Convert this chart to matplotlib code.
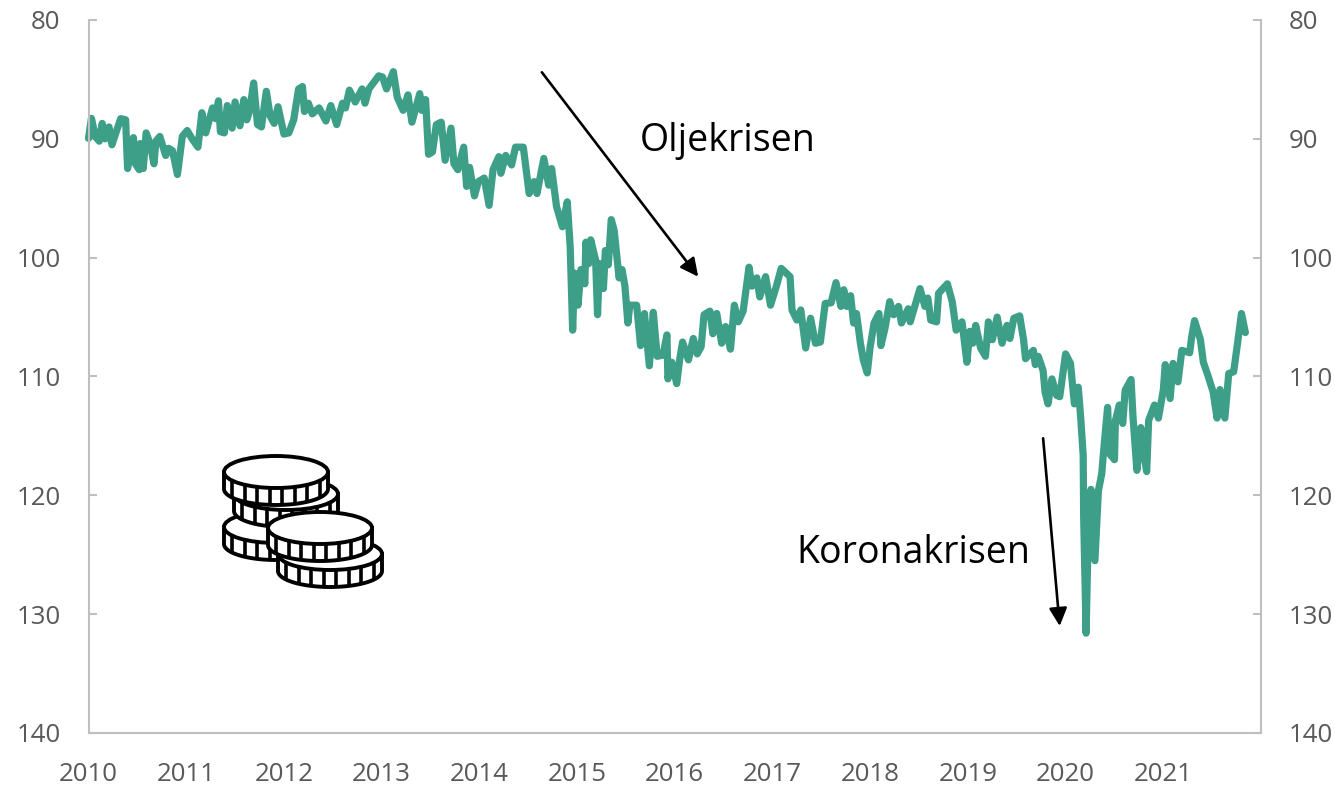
import numpy as np
import matplotlib
matplotlib.use('Agg')
import matplotlib.pyplot as plt
from matplotlib.patches import Ellipse, Polygon

plt.rcParams['font.family'] = ['Open Sans', 'DejaVu Sans']

# decimal year, index value
years = [
    2010.00, 2010.03, 2010.07, 2010.11, 2010.14, 2010.17, 2010.21, 2010.24, 2010.28, 2010.33,
    2010.38, 2010.40, 2010.42, 2010.46, 2010.48, 2010.52, 2010.53, 2010.56, 2010.59, 2010.63,
    2010.67, 2010.69, 2010.73, 2010.79, 2010.82, 2010.86, 2010.91, 2010.96, 2011.01, 2011.06,
    2011.12, 2011.16, 2011.20, 2011.27, 2011.30, 2011.33, 2011.35, 2011.39, 2011.42, 2011.47,
    2011.50, 2011.55, 2011.59, 2011.62, 2011.65, 2011.69, 2011.73, 2011.77, 2011.82, 2011.86,
    2011.90, 2011.94, 2012.00, 2012.05, 2012.10, 2012.15, 2012.19, 2012.21, 2012.25, 2012.29,
    2012.36, 2012.43, 2012.48, 2012.54, 2012.60, 2012.63, 2012.67, 2012.73, 2012.80, 2012.83,
    2012.87, 2012.97, 2013.01, 2013.05, 2013.12, 2013.16, 2013.22, 2013.27, 2013.31, 2013.39,
    2013.41, 2013.45, 2013.48, 2013.52, 2013.56, 2013.61, 2013.65, 2013.71, 2013.74, 2013.78,
    2013.84, 2013.87, 2013.90, 2013.95, 2013.99, 2014.05, 2014.10, 2014.14, 2014.20, 2014.22,
    2014.27, 2014.33, 2014.37, 2014.45, 2014.51, 2014.56, 2014.59, 2014.66, 2014.71, 2014.74,
    2014.79, 2014.85, 2014.90, 2014.93, 2014.955, 2014.975, 2015.01, 2015.04, 2015.08, 2015.09,
    2015.12, 2015.14, 2015.19, 2015.21, 2015.23, 2015.27, 2015.29, 2015.32, 2015.35, 2015.38,
    2015.43, 2015.46, 2015.49, 2015.52, 2015.54, 2015.61, 2015.65, 2015.69, 2015.74, 2015.78,
    2015.82, 2015.88, 2015.92, 2015.93, 2015.97, 2016.02, 2016.05, 2016.08, 2016.14, 2016.19,
    2016.23, 2016.27, 2016.30, 2016.36, 2016.39, 2016.43, 2016.48, 2016.52, 2016.57, 2016.61,
    2016.65, 2016.70, 2016.76, 2016.79, 2016.84, 2016.87, 2016.93, 2016.98, 2017.04, 2017.09,
    2017.18, 2017.20, 2017.25, 2017.29, 2017.34, 2017.39, 2017.44, 2017.49, 2017.54, 2017.60,
    2017.65, 2017.70, 2017.73, 2017.76, 2017.80, 2017.83, 2017.86, 2017.90, 2017.93, 2017.97,
    2018.00, 2018.04, 2018.09, 2018.11, 2018.15, 2018.20, 2018.24, 2018.29, 2018.32, 2018.39,
    2018.41, 2018.51, 2018.56, 2018.59, 2018.62, 2018.68, 2018.70, 2018.79, 2018.84, 2018.88,
    2018.94, 2018.99, 2019.02, 2019.05, 2019.08, 2019.13, 2019.18, 2019.21, 2019.25, 2019.30,
    2019.35, 2019.40, 2019.43, 2019.47, 2019.53, 2019.57, 2019.59, 2019.67, 2019.69, 2019.72,
    2019.77, 2019.79, 2019.82, 2019.86, 2019.91, 2019.94, 2020.00, 2020.05, 2020.09, 2020.13,
    2020.155, 2020.18, 2020.185, 2020.21, 2020.23, 2020.26, 2020.30, 2020.336, 2020.37, 2020.39,
    2020.43, 2020.45, 2020.50, 2020.51, 2020.55, 2020.585, 2020.61, 2020.67, 2020.69, 2020.73,
    2020.77, 2020.80, 2020.83, 2020.85, 2020.91, 2020.95, 2021.00, 2021.02, 2021.07, 2021.10,
    2021.15, 2021.19, 2021.27, 2021.29, 2021.32, 2021.38, 2021.41, 2021.46, 2021.51, 2021.55,
    2021.58, 2021.63, 2021.67, 2021.72, 2021.76, 2021.80, 2021.84,
]
index_values = [
    89.96, 88.28, 89.8, 90.2, 88.7, 90.0, 89.0, 90.5, 89.5, 88.3,
    88.4, 92.5, 91.5, 89.9, 92.1, 92.6, 90.4, 92.5, 89.5, 90.4,
    92.1, 90.2, 89.8, 91.4, 90.8, 91.0, 93.0, 89.8, 89.3, 90.0,
    90.7, 87.8, 89.5, 87.4, 88.3, 86.8, 89.4, 89.5, 87.2, 89.1,
    86.9, 88.9, 86.7, 88.4, 87.6, 85.3, 88.8, 89.0, 86.0, 88.1,
    88.7, 87.3, 89.6, 89.5, 88.4, 85.8, 85.6, 87.7, 87.0, 87.9,
    87.4, 88.5, 87.2, 88.8, 87.0, 87.4, 85.9, 86.9, 85.8, 87.0,
    85.8, 84.7, 84.8, 85.8, 84.35, 86.5, 87.6, 86.3, 88.6, 86.2,
    87.6, 86.7, 91.3, 91.1, 88.8, 88.6, 91.8, 89.1, 92.1, 92.6,
    90.7, 94.0, 92.4, 94.8, 93.6, 93.3, 95.6, 92.6, 91.5, 92.9,
    91.4, 92.2, 90.7, 90.7, 94.6, 93.6, 94.6, 91.65, 93.9, 92.5,
    95.7, 97.4, 95.3, 99.1, 106.1, 101.3, 104.0, 101.0, 102.2, 98.7,
    100.5, 98.5, 100.2, 104.8, 100.5, 102.6, 99.4, 100.6, 96.8, 97.7,
    101.7, 101.0, 102.4, 105.5, 104.0, 104.0, 107.4, 104.7, 109.1, 104.6,
    108.3, 108.2, 106.5, 110.2, 108.8, 110.6, 108.6, 107.1, 108.6, 106.8,
    108.1, 107.5, 104.8, 104.5, 106.4, 104.7, 107.2, 105.8, 107.7, 104.0,
    105.4, 104.5, 100.8, 102.4, 101.7, 103.3, 101.6, 104.0, 102.4, 100.9,
    101.6, 104.4, 105.25, 104.4, 107.6, 105.1, 107.2, 107.1, 103.85, 103.8,
    102.1, 104.1, 102.7, 104.1, 103.2, 105.5, 104.7, 107.2, 108.6, 109.7,
    107.5, 105.5, 104.7, 107.4, 106.0, 103.7, 104.8, 104.1, 105.5, 104.3,
    105.4, 102.6, 104.1, 103.4, 105.25, 105.4, 103.0, 102.2, 103.7, 106.1,
    105.4, 108.8, 106.2, 107.2, 105.7, 107.6, 108.3, 105.4, 106.9, 105.0,
    107.2, 105.7, 106.8, 105.1, 104.9, 106.9, 108.5, 107.8, 109.0, 108.3,
    109.5, 111.3, 112.3, 110.2, 111.6, 111.7, 108.1, 108.9, 112.3, 110.9,
    113.5, 116.6, 121.8, 131.6, 123.8, 119.5, 125.5, 119.6, 118.2, 116.2,
    112.6, 116.5, 117.0, 113.7, 112.4, 113.95, 111.15, 110.25, 113.4, 117.9,
    114.3, 116.5, 118.0, 113.7, 112.4, 113.5, 111.15, 109.0, 111.85, 108.9,
    110.45, 107.8, 108.0, 106.7, 105.3, 106.9, 108.8, 110.0, 111.3, 113.5,
    111.1, 113.5, 109.75, 109.6, 107.2, 104.7, 106.3,
]
x_ticks = [2010, 2011, 2012, 2013, 2014, 2015, 2016, 2017, 2018, 2019, 2020, 2021]
y_ticks = [80, 90, 100, 110, 120, 130, 140]

W, H = 1335, 785
LINE_COLOR = '#3E9F88'
AXIS_COLOR = '#BFBFBF'
TEXT_COLOR = '#595959'


def draw_coin(ax, cx, cy, z, rx=52, ry=16, h=17):
    """One coin in pixel coordinates: white side with ridges, then the flat top."""
    t = np.linspace(0, np.pi, 60)
    lower = np.column_stack([cx + rx * np.cos(t), cy + h + ry * np.sin(t)])
    body = np.vstack([[[cx + rx, cy]], lower, [[cx - rx, cy]]])
    ax.add_patch(Polygon(body, closed=True, fc='white', ec='black', lw=2.8, zorder=z))
    for u in np.linspace(-0.84, 0.84, 8):
        y0 = cy + ry * np.sqrt(1 - u ** 2)
        ax.plot([cx + u * rx, cx + u * rx], [y0, y0 + h], color='black', lw=2.6, zorder=z,
                solid_capstyle='butt')
    ax.add_patch(Ellipse((cx, cy), 2 * rx, 2 * ry, fc='white', ec='black', lw=2.8, zorder=z))


fig = plt.figure(figsize=(W / 100, H / 100), dpi=100)
ax = fig.add_axes([88.5 / W, 1 - 733 / H, (1261 - 88.5) / W, (733 - 20) / H])

ax.plot(years, index_values, color=LINE_COLOR, lw=5.2, solid_joinstyle='round',
        solid_capstyle='round', clip_on=False)

ax.set_xlim(2010, 2022)
ax.set_ylim(140, 80)
ax.set_xticks(x_ticks)
ax.set_yticks(y_ticks)
ax.spines['top'].set_visible(False)
for side in ['left', 'right', 'bottom']:
    ax.spines[side].set_color(AXIS_COLOR)
    ax.spines[side].set_linewidth(1.5)
ax.tick_params(axis='x', length=0, pad=21, labelsize=18.6, labelcolor=TEXT_COLOR)
ax.tick_params(axis='y', direction='in', length=6, width=1.5, color=AXIS_COLOR, pad=20,
               labelsize=18.6, labelcolor=TEXT_COLOR, left=True, right=True, labelright=True)

ax.text(2015.64, 90.15, 'Oljekrisen', fontsize=27, color='black', va='center', ha='left')
ax.text(2017.24, 124.85, 'Koronakrisen', fontsize=27, color='black', va='center', ha='left')

arrow = dict(arrowstyle='-|>,head_length=0.6,head_width=0.3', color='black', lw=1.9,
             shrinkA=0, shrinkB=0, mutation_scale=18)
ax.annotate('', xy=(2016.24, 101.6), xytext=(2014.64, 84.4), arrowprops=arrow)
ax.annotate('', xy=(2019.94, 131.0), xytext=(2019.77, 115.2), arrowprops=arrow)

# coin pile, drawn on an overlay in pixel coordinates
icon = fig.add_axes([0, 0, 1, 1], facecolor='none')
icon.set_xlim(0, W)
icon.set_ylim(H, 0)
icon.axis('off')
draw_coin(icon, 276, 527, 1)
draw_coin(icon, 286, 494, 2)
draw_coin(icon, 276, 472, 3)
draw_coin(icon, 330, 554, 4)
draw_coin(icon, 320, 528, 5)

fig.savefig('out.png', dpi=100)
